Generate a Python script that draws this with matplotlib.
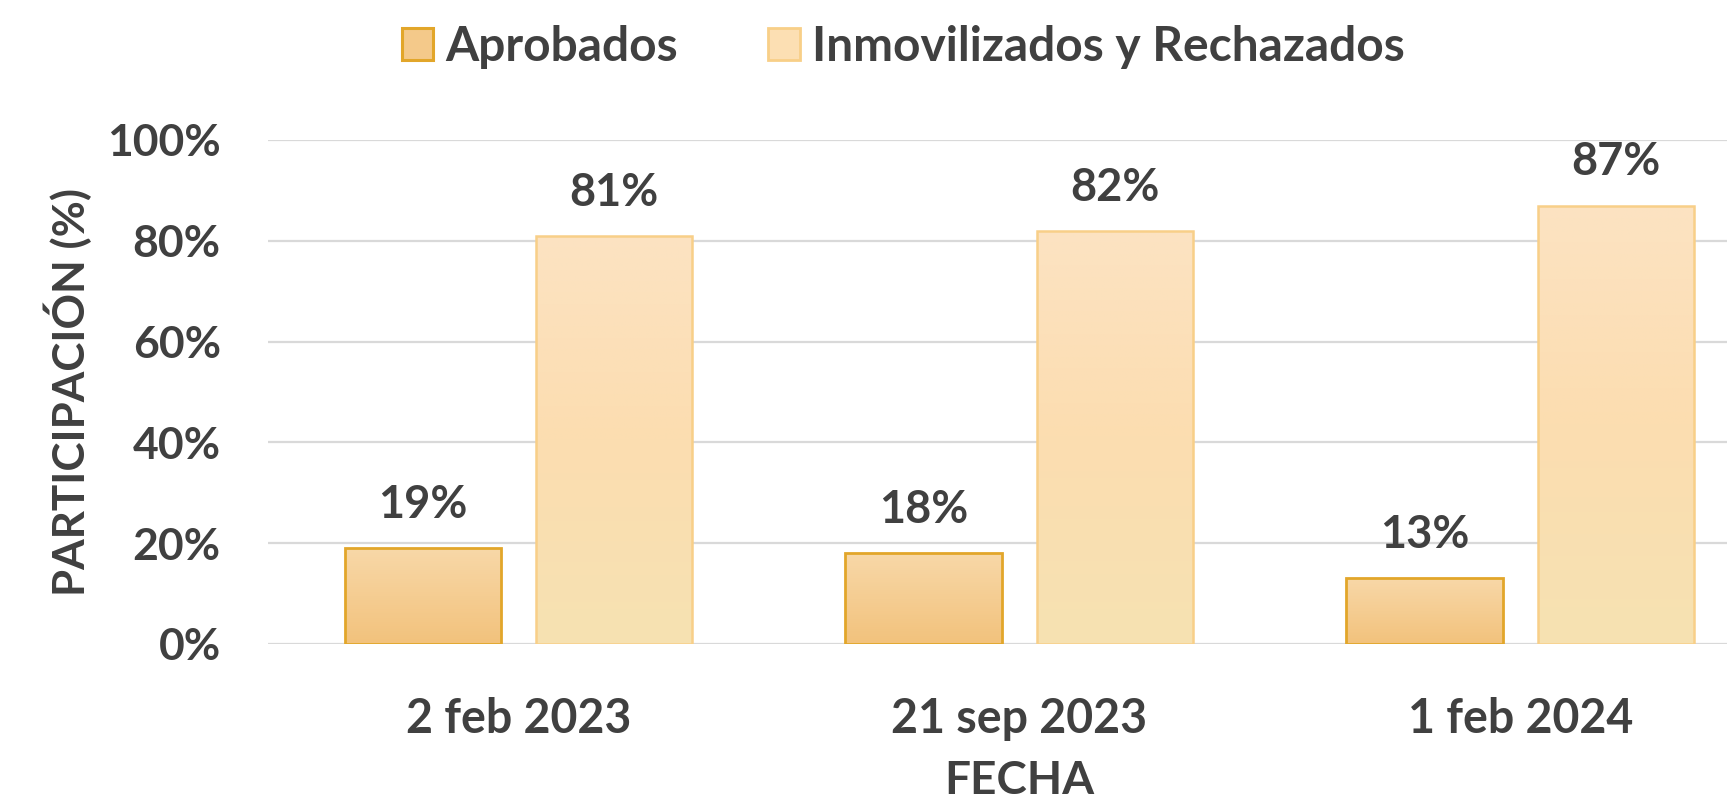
import numpy as np
import matplotlib
matplotlib.use("Agg")
import matplotlib.pyplot as plt
from matplotlib.colors import LinearSegmentedColormap
from matplotlib.patches import Patch

# ---- data ----
categories = ["2 feb 2023", "21 sep 2023", "1 feb 2024"]
series_names = ["Aprobados", "Inmovilizados y Rechazados"]
aprobados = [19, 18, 13]
inmovilizados = [81, 82, 87]
yticks = [0, 20, 40, 60, 80, 100]
ytick_labels = ["0%", "20%", "40%", "60%", "80%", "100%"]

FONT = "Lato"
TXT = "#404040"
plt.rcParams["font.family"] = [FONT, "DejaVu Sans"]
plt.rcParams["font.weight"] = "bold"

fig = plt.figure(figsize=(17.27, 8.01), dpi=100)
ax = fig.add_axes([268 / 1727, 1 - 644 / 801, 1 - 268 / 1727, (644 - 140) / 801])

x = np.arange(len(categories))
w = 0.312
off = 0.191

face1, edge1 = "#F4C98A", "#E2A62A"
face2, edge2 = "#FCDFB3", "#F8CF88"
cm1 = LinearSegmentedColormap.from_list("c1", ["#F2C27C", "#F8D8A8"])
cm2 = LinearSegmentedColormap.from_list("c2", ["#F6E2B2", "#FCDDB0", "#FCE3C2"])

b1 = ax.bar(x - off, aprobados, w, facecolor="none", edgecolor=edge1, linewidth=2.0, zorder=3)
b2 = ax.bar(x + off, inmovilizados, w, facecolor="none", edgecolor=edge2, linewidth=1.8, zorder=3)

grad = np.linspace(0, 1, 256).reshape(-1, 1)
for bars, cmap in ((b1, cm1), (b2, cm2)):
    for bar in bars:
        x0, y0 = bar.get_x(), bar.get_y()
        bw, bh = bar.get_width(), bar.get_height()
        im = ax.imshow(grad, extent=[x0, x0 + bw, y0, y0 + bh], aspect="auto",
                       cmap=cmap, origin="lower", zorder=2.5, interpolation="bilinear")
        im.set_clip_path(bar)

for bars in (b1, b2):
    for bar in bars:
        h = bar.get_height()
        ax.annotate(f"{h:.0f}%", (bar.get_x() + bar.get_width() / 2, h),
                    xytext=(0, 31), textcoords="offset points",
                    ha="center", va="center", fontsize=32.5, fontweight="bold", color=TXT)

ax.set_xlim(-0.5, 2.413)
ax.set_ylim(0, 100)
ax.set_yticks(yticks)
ax.set_yticklabels(ytick_labels)
ax.set_xticks(x)
ax.set_xticklabels(categories)
ax.tick_params(axis="y", length=0, labelsize=32, labelcolor=TXT, pad=34)
ax.tick_params(axis="x", length=0, labelsize=33.5, labelcolor=TXT, pad=38)
for lab in ax.get_xticklabels() + ax.get_yticklabels():
    lab.set_fontweight("bold")
ax.grid(axis="y", color="#D9D9D9", linewidth=1.6, zorder=0)
ax.set_axisbelow(True)
for s in ax.spines.values():
    s.set_visible(False)

fig.text(68 / 1727, 1 - 392 / 801, "PARTICIPACIÓN (%)", rotation=90, ha="center", va="center",
         fontsize=31.7, fontweight="bold", color=TXT)
fig.text(1019 / 1727, 1 - 781 / 801, "FECHA", ha="center", va="center",
         fontsize=33, fontweight="bold", color=TXT)

handles = [Patch(facecolor=face1, edgecolor=edge1, linewidth=2.2),
           Patch(facecolor=face2, edgecolor=edge2, linewidth=2.0)]
fig.legend(handles, series_names, loc="center", bbox_to_anchor=(903 / 1727, 1 - 47 / 801),
           ncol=2, frameon=False, handlelength=0.65, handleheight=0.65,
           handletextpad=0.25, columnspacing=1.9, borderpad=0, borderaxespad=0,
           prop={"weight": "bold", "size": 34.5}, labelcolor=TXT)

fig.savefig("out.png", dpi=100)
